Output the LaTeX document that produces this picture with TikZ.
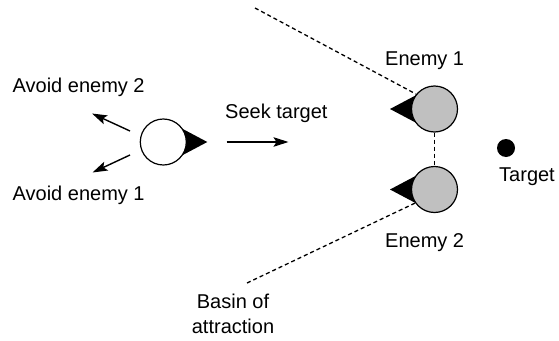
\documentclass[tikz,border=0pt]{standalone}
\usepackage{fontspec}
\setmainfont{Liberation Sans}
\usetikzlibrary{arrows.meta}
\definecolor{enemygray}{RGB}{192,192,192}
\begin{document}
\begin{tikzpicture}[x=1pt,y=-1pt,
  lbl/.style={font=\fontsize{20}{25}\selectfont, inner sep=0pt, anchor=base west},
  agentcirc/.style={circle, draw, line width=1.2pt, fill=white, minimum size=46pt, inner sep=0pt},
  enemycirc/.style={circle, draw, line width=1.2pt, fill=enemygray, minimum size=46pt, inner sep=0pt},
  arr/.style={line width=1.4pt, -{Stealth[length=15pt,width=9.5pt,inset=3pt]}},
  basin/.style={line width=1.3pt, dash pattern=on 4pt off 3pt}
]
\useasboundingbox (0,0) rectangle (559,340);
% centres
\coordinate (ac) at (163.3,142);
\coordinate (e1c) at (434.5,109);
\coordinate (e2c) at (434.5,189.5);
% heading triangles
\fill ([shift={(44,0)}]ac) -- ([shift={(5,-20.7)}]ac) -- ([shift={(5,20.7)}]ac) -- cycle;
\fill ([shift={(-44.5,0)}]e1c) -- ([shift={(-5,-20.9)}]e1c) -- ([shift={(-5,20.9)}]e1c) -- cycle;
\fill ([shift={(-44.5,0)}]e2c) -- ([shift={(-5,-20.9)}]e2c) -- ([shift={(-5,20.9)}]e2c) -- cycle;
% bodies
\node[agentcirc] (agent) at (ac) {};
\node[enemycirc] (enemy1) at (e1c) {};
\node[enemycirc] (enemy2) at (e2c) {};
\node[circle, fill=black, minimum size=18pt, inner sep=0pt] (target) at (506,148) {};
% basin of attraction
\coordinate (bu) at (255,8);
\coordinate (bl) at (247,283);
\draw[basin] (bu) -- (enemy1.141);
\draw[basin] (bl) -- (enemy2.215);
\draw[basin] (enemy1.south) -- (enemy2.north);
% steering arrows
\coordinate (a2s) at (130,131);
\coordinate (a2e) at (92,113.5);
\coordinate (a1s) at (130,155);
\coordinate (a1e) at (92.5,172.5);
\coordinate (ss) at (226.5,142);
\coordinate (se) at (288.5,142);
\draw[arr] (a2s) -- (a2e);
\draw[arr] (a1s) -- (a1e);
\draw[arr] (ss) -- (se);
% labels
\node[lbl] (lav2) at (12.5,92) {Avoid enemy 2};
\node[lbl] (lav1) at (12.5,200) {Avoid enemy 1};
\node[lbl] (lseek) at (225,118) {Seek target};
\node[lbl] (le1) at (385,65) {Enemy 1};
\node[lbl] (le2) at (385,247) {Enemy 2};
\node[lbl] (ltar) at (499,181) {Target};
\node[font=\fontsize{20}{25}\selectfont, inner sep=0pt, align=center] (lbasin) at (233,314) {Basin of\\attraction};
\end{tikzpicture}
\end{document}
